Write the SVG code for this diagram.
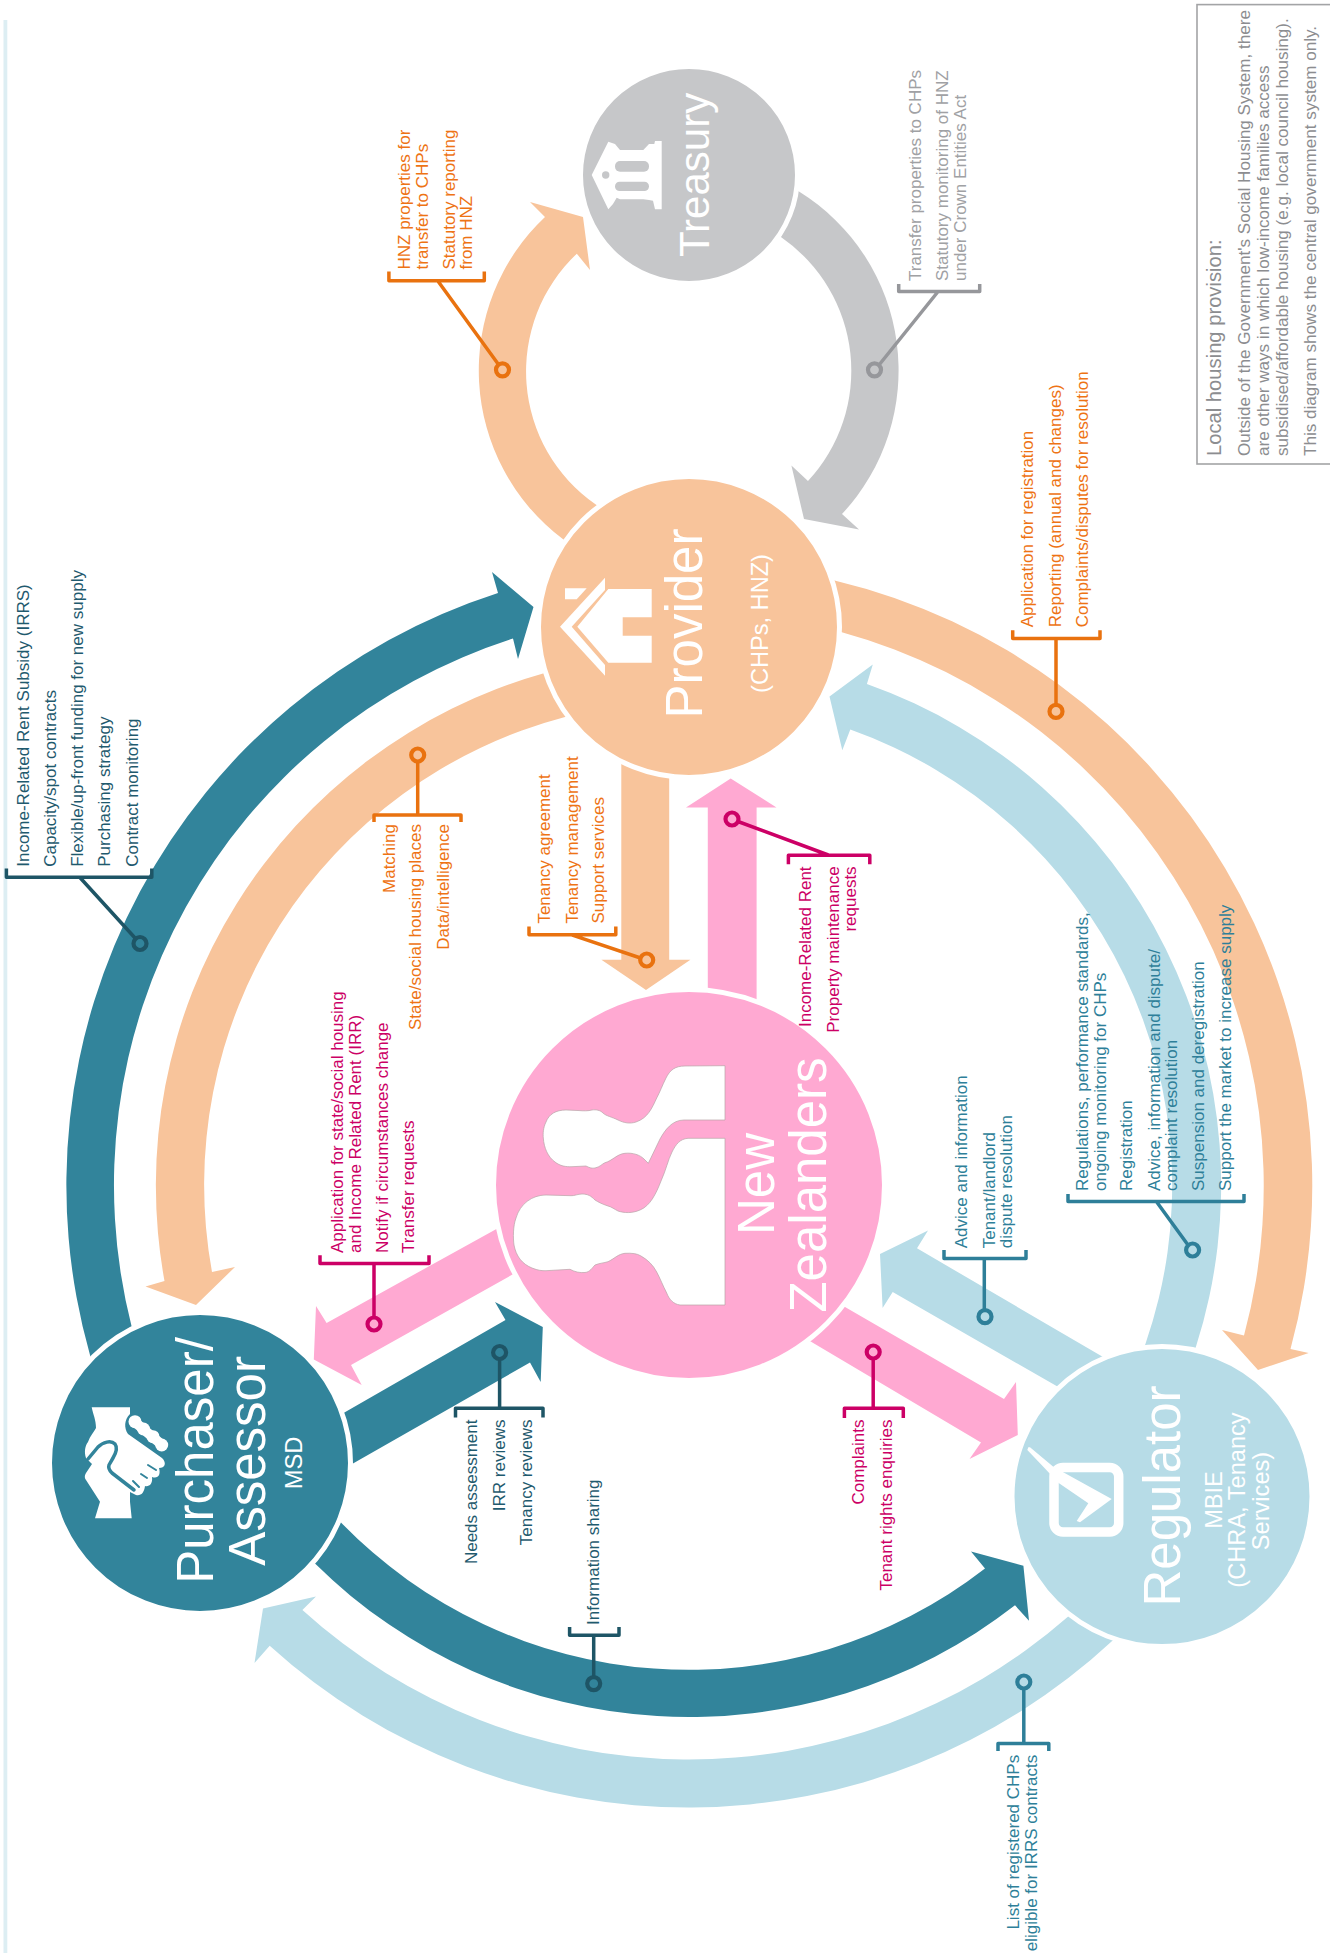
<svg xmlns="http://www.w3.org/2000/svg" width="1330" height="1953" viewBox="0 0 1330 1953">
<style>
text{font-family:"Liberation Sans",Arial,sans-serif;font-size:17px}
.teal{fill:#32849B}.peach{fill:#F8C49B}.blue{fill:#B7DCE7}.pink{fill:#FFA9D2}.grey{fill:#C6C7C9}
.halo{stroke:#fff;stroke-width:5}
.t-dark{fill:#1F5A6E}.t-mid{fill:#2E7F99}.t-or{fill:#EE7314}.t-mag{fill:#CC0066}.t-grey{fill:#A0A1A4}.t-box{fill:#8C8D90}
.end{text-anchor:end}.mid{text-anchor:middle}
.big{font-size:51px;fill:#fff;text-anchor:middle}.sub{font-size:23.6px;fill:#fff;text-anchor:middle}
.call{fill:none;stroke-width:3.5;stroke-linejoin:round}
circle.call{stroke-width:4.2}
.c-dark{stroke:#1E5566}.c-mid{stroke:#2E7F99}.c-or{stroke:#E9720F}.c-mag{stroke:#CC0066}.c-grey{stroke:#96979B}
.ic{fill:#fff}
</style>
<rect id="side-bar" x="3.5" y="20" width="3.8" height="1933" fill="#DDEEF3"/>
<g id="info-box">
<rect x="1197" y="4.6" width="140" height="459.4" fill="#fff" stroke="#A3A4A6" stroke-width="1.6"/>
<text class="t-box" style="font-size:20.2px" transform="translate(1220.5 456) rotate(-90)">Local housing provision:</text>
<text class="t-box" style="font-size:17.1px" transform="translate(1250 456) rotate(-90)">Outside of the Government's Social Housing System, there</text>
<text class="t-box" style="font-size:17.1px" transform="translate(1269.3 456) rotate(-90)">are other ways in which low-income families access</text>
<text class="t-box" style="font-size:17.1px" transform="translate(1288.4 456) rotate(-90)">subsidised/affordable housing (e.g. local council housing).</text>
<text class="t-box" style="font-size:17.1px" transform="translate(1316 456) rotate(-90)">This diagram shows the central government system only.</text>
</g>
<g id="connectors">
<path class="teal" d="M94,1369 L90,1355 A622 622 0 0 1 498,593 L492,572 L533.5,607 L518,659 L513,638.5 A574 574 0 0 0 131.5,1326 L136.4,1345 Z"/>
<path class="peach" d="M557.4,669.5 L543,673.6 A532 532 0 0 0 164.5,1281 L145.5,1286.4 L196,1305 L235,1267 L212,1272 A484 484 0 0 1 565,717 L579.5,713 Z"/>
<path class="peach" d="M574.8,548 L562.8,539 A211 211 0 0 1 545,217 L530,202 L583,217 L590,270 L576.8,253.7 A162 162 0 0 0 595.8,504.6 L608,513 Z"/>
<path class="grey" d="M786,183.6 L799,191.5 A210.5 210.5 0 0 1 842,514 L859,529.4 L804,519 L791.4,465.6 L808,481 A162 162 0 0 0 781.6,237.6 L769.4,229 Z"/>
<path class="peach" d="M820,577 L834.6,580.4 A622.5 622.5 0 0 1 1290.5,1349 L1308.7,1353 L1258,1370 L1222,1330 L1244,1335.4 A574.5 574.5 0 0 0 841,632 L826.5,628 Z"/>
<path class="blue" d="M1140.6,1358 L1145.5,1343.7 A483.5 483.5 0 0 0 850.3,729.6 L842.3,750.3 L829.5,696.4 L872.8,664.5 L866.9,684 A531.5 531.5 0 0 1 1196,1346.6 L1191.4,1361 Z"/>
<path class="teal" d="M330,1511 L340.5,1522 A484 484 0 0 0 985,1568.6 L971,1551.6 L1023.4,1565.7 L1029,1620.7 L1015,1605.3 A532 532 0 0 1 315,1563.6 L304.3,1553 Z"/>
<path class="blue" d="M1078.3,1607.5 L1067,1617.4 A574.5 574.5 0 0 1 302.4,1610 L316,1596.5 L263,1608.6 L254.5,1663 L269.7,1645.7 A622.5 622.5 0 0 0 1112.4,1640.7 L1123.4,1630.5 Z"/>
<polygon class="peach" points="621.3,740 669.2,740 669.2,959.7 690.4,959.7 646,990 601.4,959.7 621.3,959.7"/>
<polygon class="pink" points="707.8,1020 707.8,807.5 686,807.5 730.7,778.5 776.5,807.5 756.6,807.5 756.6,1020"/>
<polygon class="pink" points="517,1217.5 326.6,1323 316,1306 313.8,1359.6 361.7,1385 351,1365 533,1263"/>
<polygon class="teal" points="324.4,1424 505.5,1320 495,1302 542.8,1327 540.7,1382 530,1362.5 332.8,1475"/>
<polygon class="pink" points="826,1296 1004,1399 1016,1382 1017.8,1435 969.5,1459 981,1442.4 791.3,1330"/>
<polygon class="blue" points="1118.5,1366 917,1248.3 928,1230.4 880,1254 882.6,1308 892.7,1292 1074,1396"/>
</g>
<g id="node-treasury">
<circle class="grey halo" cx="689" cy="175" r="108.5"/>
<path class="ic" d="M591.7,175 L608.3,141.7 L615,144 L620,150 L643.3,150 L649,144 L654.3,144 L655,141 L661.7,141 L661.7,209.3 L655,209.3 L653,200.7 L649,200 L643.3,199.3 L620,199.3 L616.7,197.7 L613,204 L608.3,209.3 Z"/>
<rect class="grey" x="615" y="161" width="34" height="10.7" rx="5"/>
<rect class="grey" x="615" y="181.7" width="34" height="9.3" rx="4.6"/>
<circle class="grey" cx="605.7" cy="175" r="3.7"/>
<text class="big" style="font-size:42px;text-anchor:start" transform="translate(708.7 257) rotate(-90)">Treasury</text>
</g>
<g id="node-provider">
<circle class="peach halo" cx="689" cy="627" r="150.5"/>
<path class="ic" d="M560,626.7 L605,577.7 L605,590 L571.7,626.7 L605,665 L605,675.7 Z"/>
<path class="ic" d="M565,588.3 L586.7,588.3 L576.7,599.3 L565,599.3 Z"/>
<path class="ic" d="M577.3,626.7 L608.3,589 L651.7,589 L651.7,617.3 L622.7,617.3 L622.7,635.7 L651.7,635.7 L651.7,662.7 L608.3,662.7 Z"/>
<text class="big" transform="translate(702.3 623.5) rotate(-90)">Provider</text>
<text class="sub" transform="translate(768 623.5) rotate(-90)">(CHPs, HNZ)</text>
</g>
<g id="node-new-zealanders">
<circle class="pink halo" cx="689" cy="1185" r="195.5"/>
<path fill="#fff" stroke="#B8A5A8" stroke-width="0.7" d="M725,1065.7 L685,1066 C675,1066 670,1070 666,1078 C662,1086 660,1092 656.7,1098 C652,1108 648,1118 636,1122 C630,1124 624,1123 618,1120 C612,1117 606,1116 603,1113 C600,1110 596,1109.5 592,1110 C588,1111 584,1111 578,1110.5 L566,1110 C556,1110 549,1114 546,1122 C543,1128 543,1134 543.3,1138 C544,1148 548,1157 555,1162 C560,1166 566,1167 572,1166.7 L586,1166 C590,1168 592,1168.5 595,1168 C600,1167 602,1164 605,1162.7 C612,1161 617,1154 625,1153.3 C633,1152.5 640,1155 644,1159 L648.3,1163.3 L660,1139 C665,1130 672,1120 684,1120 L725,1120 Z"/>
<path fill="#fff" stroke="#B8A5A8" stroke-width="0.7" d="M725,1138.3 L688,1138.3 C680,1139 676,1144 672,1152 C668,1160 666,1170 661,1181 C656,1194 650,1206 640,1210 C632,1213.5 624,1213 618,1211 C614,1209 612,1207 608,1206 C602,1204 598,1202 595,1200 C591,1196 588,1194 582,1194 C578,1194 574,1196 571,1195.7 L546,1195 C532,1195 520,1204 516,1218 C513,1226 513,1238 514,1245 C516,1256 522,1264 532,1268 C538,1270.5 542,1270.8 546,1270.7 L570,1269.3 C575,1272 580,1273 585,1272.5 C590,1272 592,1268 595,1265 C600,1263 604,1263 608,1261.7 C614,1259 618,1254 625,1253.3 C632,1253 637,1253.5 641,1256 C648,1260 653,1265 656.7,1272 C660,1278 663,1286 666.7,1293 C669,1299 673,1304 680,1305 L725,1305 Z"/>
<text class="big" transform="translate(774.4 1184) rotate(-90)">New</text>
<text class="big" transform="translate(826 1185) rotate(-90)">Zealanders</text>
</g>
<g id="node-purchaser">
<circle class="teal halo" cx="200" cy="1463" r="150.5"/>
<path class="ic" d="M91.7,1407.3 L130,1407.3 L130,1414 C124,1420 124,1428 128,1434 L162,1458 C167,1463 165,1468 159,1468 C161,1475 158,1479 152,1477 C153,1484 149,1487 145,1486 C144,1493 141,1496 136,1495 L130,1492 L130,1501.7 L131.7,1518.3 L95,1518.3 L100,1501.7 L86,1480 C84,1477 85,1475 86,1473 L92,1464 L86,1458 C84,1452 85,1446 88,1442 C90,1436 94,1432 96,1428 C96,1420 93,1414 91.7,1407.3 Z"/>
<path fill="none" stroke="#32849B" stroke-width="3.5" stroke-linecap="round" stroke-linejoin="round" d="M88,1459 L98,1447 C103,1442 111,1440 115,1444 C118,1448 116,1453 113,1458 L109,1465 C108,1468 110,1471 112,1473 L134,1490"/>
<path fill="none" stroke="#32849B" stroke-width="2" stroke-linecap="round" d="M148,1465 L156,1470 M141,1474 L147,1478 M133,1481 L139,1487"/>
<path fill="none" stroke="#fff" stroke-width="10" stroke-linecap="round" d="M136,1423 L161,1444"/>
<circle class="ic" cx="135" cy="1421.7" r="6.5"/><circle class="ic" cx="143.5" cy="1429" r="6.5"/><circle class="ic" cx="153" cy="1436.7" r="6.5"/><circle class="ic" cx="161.7" cy="1445" r="6.5"/>
<text class="big" transform="translate(213.3 1460.5) rotate(-90)">Purchaser/</text>
<text class="big" transform="translate(265 1461) rotate(-90)">Assessor</text>
<text class="sub" transform="translate(302.4 1463) rotate(-90)">MSD</text>
</g>
<g id="node-regulator">
<circle class="blue halo" cx="1162" cy="1496.5" r="150"/>
<rect x="1054" y="1467.5" width="64.7" height="64.5" rx="9" fill="none" stroke="#fff" stroke-width="9.5"/>
<path class="ic" d="M1028.3,1447.3 L1030,1447.3 L1053.3,1466.7 L1111.7,1499 L1080,1522.3 L1076.7,1521 L1088.3,1503.3 L1058.3,1482.7 L1043.3,1466.7 L1027.3,1450 Z"/>
<text class="big" transform="translate(1180 1496) rotate(-90)">Regulator</text>
<text class="sub" transform="translate(1222 1500) rotate(-90)">MBIE</text>
<text class="sub" transform="translate(1245 1500) rotate(-90)">(CHRA, Tenancy</text>
<text class="sub" transform="translate(1269 1501) rotate(-90)">Services)</text>
</g>
<g id="callouts">
<path class="call c-dark" d="M6.4,868.5 V877.2 H151.8 V868.5 M79.7,877.2 L135.5,938.5"/><circle class="call c-dark" cx="140" cy="943.5" r="6.5"/>
<path class="call c-or" d="M388.9,271.6 V280.7 H484.3 V271.6 M437.7,280.7 L498.5,364.5"/><circle class="call c-or" cx="502.5" cy="369.8" r="6.5"/>
<path class="call c-grey" d="M898.7,284 V291.5 H979.7 V284 M937.7,292 L879,365"/><circle class="call c-grey" cx="874.5" cy="369.8" r="6.5"/>
<path class="call c-or" d="M1012.7,630.2 V638.5 H1100 V630.2 M1056,638.5 V705"/><circle class="call c-or" cx="1056" cy="711.4" r="6.5"/>
<path class="call c-or" d="M374,822 V815 H461 V822 M417.7,815 V761.5"/><circle class="call c-or" cx="417.7" cy="755" r="6.5"/>
<path class="call c-or" d="M529,926.5 V934.8 H615.8 V926.5 M571.7,934.8 L640.5,958"/><circle class="call c-or" cx="646.7" cy="960" r="6.5"/>
<path class="call c-mag" d="M788.4,864.3 V855.2 H869.8 V864.3 M828.3,855 L738,821.5"/><circle class="call c-mag" cx="732" cy="819" r="6.5"/>
<path class="call c-mag" d="M320,1255.3 V1263.6 H429 V1255.3 M374,1263.6 V1317.5"/><circle class="call c-mag" cx="374" cy="1324" r="6.5"/>
<path class="call c-dark" d="M455.5,1417.5 V1408.3 H543 V1417.5 M499.6,1408.3 V1359"/><circle class="call c-dark" cx="499.6" cy="1352.5" r="6.5"/>
<path class="call c-dark" d="M569.6,1627 V1635.3 H619 V1627 M593.7,1635.3 V1677"/><circle class="call c-dark" cx="593.7" cy="1683.6" r="6.5"/>
<path class="call c-mag" d="M844.4,1418 V1408.3 H903.3 V1418 M873.2,1408.3 V1358.5"/><circle class="call c-mag" cx="873.2" cy="1352" r="6.5"/>
<path class="call c-mid" d="M998,1751 V1743.6 H1048.8 V1751 M1023.8,1743.6 V1688.5"/><circle class="call c-mid" cx="1023.8" cy="1682" r="6.5"/>
<path class="call c-mid" d="M944,1250 V1258.6 H1026 V1250 M984.3,1258.6 V1310"/><circle class="call c-mid" cx="985" cy="1316.7" r="6.5"/>
<path class="call c-mid" d="M1068,1194 V1201.4 H1244 V1194 M1156,1201 L1188,1245"/><circle class="call c-mid" cx="1192.6" cy="1250" r="6.5"/>
</g>
<g id="labels-purchaser-provider" class="t-dark">
<text transform="translate(28.8 866.8) rotate(-90)">Income-Related Rent Subsidy (IRRS)</text>
<text transform="translate(55.6 866.8) rotate(-90)">Capacity/spot contracts</text>
<text transform="translate(82.7 866.8) rotate(-90)">Flexible/up-front funding for new supply</text>
<text transform="translate(110 866.8) rotate(-90)">Purchasing strategy</text>
<text transform="translate(138 866.8) rotate(-90)">Contract monitoring</text>
</g>
<g id="labels-provider-treasury" class="t-or">
<text transform="translate(410 269.5) rotate(-90)">HNZ properties for</text>
<text transform="translate(427.5 269.5) rotate(-90)">transfer to CHPs</text>
<text transform="translate(454.6 269.5) rotate(-90)">Statutory reporting</text>
<text transform="translate(471.6 269.5) rotate(-90)">from HNZ</text>
</g>
<g id="labels-treasury-provider" class="t-grey">
<text transform="translate(920.7 281) rotate(-90)">Transfer properties to CHPs</text>
<text transform="translate(948.3 281) rotate(-90)">Statutory monitoring of HNZ</text>
<text transform="translate(966 281) rotate(-90)">under Crown Entities Act</text>
</g>
<g id="labels-provider-regulator" class="t-or">
<text transform="translate(1033 627.3) rotate(-90)">Application for registration</text>
<text transform="translate(1060.7 627.3) rotate(-90)">Reporting (annual and changes)</text>
<text transform="translate(1088 627.3) rotate(-90)">Complaints/disputes for resolution</text>
</g>
<g id="labels-provider-purchaser" class="t-or">
<text class="end" transform="translate(395 824) rotate(-90)">Matching</text>
<text class="end" transform="translate(420.7 824) rotate(-90)">State/social housing places</text>
<text class="end" transform="translate(448.7 824) rotate(-90)">Data/intelligence</text>
</g>
<g id="labels-provider-nz" class="t-or">
<text transform="translate(549.6 923.6) rotate(-90)">Tenancy agreement</text>
<text transform="translate(577.6 923.6) rotate(-90)">Tenancy management</text>
<text transform="translate(604 923.6) rotate(-90)">Support services</text>
</g>
<g id="labels-nz-purchaser" class="t-mag">
<text transform="translate(342.7 1253) rotate(-90)">Application for state/social housing</text>
<text transform="translate(361 1253) rotate(-90)">and Income Related Rent (IRR)</text>
<text transform="translate(388 1253) rotate(-90)">Notify if circumstances change</text>
<text transform="translate(414.3 1253) rotate(-90)">Transfer requests</text>
</g>
<g id="labels-nz-provider" class="t-mag">
<text class="end" transform="translate(811.3 866.4) rotate(-90)">Income-Related Rent</text>
<text class="end" transform="translate(839 866.4) rotate(-90)">Property maintenance</text>
<text class="end" transform="translate(855.8 866.4) rotate(-90)">requests</text>
</g>
<g id="labels-regulator-nz" class="t-mid">
<text transform="translate(967.4 1248.3) rotate(-90)">Advice and information</text>
<text transform="translate(994.5 1248.3) rotate(-90)">Tenant/landlord</text>
<text transform="translate(1012 1248.3) rotate(-90)">dispute resolution</text>
</g>
<g id="labels-regulator-provider" class="t-mid">
<text transform="translate(1088 1191) rotate(-90)">Regulations, performance standards,</text>
<text transform="translate(1106 1191) rotate(-90)">ongoing monitoring for CHPs</text>
<text transform="translate(1132 1191) rotate(-90)">Registration</text>
<text transform="translate(1160 1191) rotate(-90)">Advice, information and dispute/</text>
<text transform="translate(1177 1191) rotate(-90)">complaint resolution</text>
<text transform="translate(1204 1191) rotate(-90)">Suspension and deregistration</text>
<text transform="translate(1231 1191) rotate(-90)">Support the market to increase supply</text>
</g>
<g id="labels-purchaser-nz" class="t-dark">
<text class="end" transform="translate(477 1419.5) rotate(-90)">Needs assessment</text>
<text class="end" transform="translate(504.7 1419.5) rotate(-90)">IRR reviews</text>
<text class="end" transform="translate(532 1419.5) rotate(-90)">Tenancy reviews</text>
</g>
<g id="labels-purchaser-regulator" class="t-dark">
<text transform="translate(598.8 1625) rotate(-90)">Information sharing</text>
</g>
<g id="labels-nz-regulator" class="t-mag">
<text class="end" transform="translate(864.3 1419.5) rotate(-90)">Complaints</text>
<text class="end" transform="translate(892 1419.5) rotate(-90)">Tenant rights enquiries</text>
</g>
<g id="labels-regulator-purchaser" class="t-mid">
<text class="end" transform="translate(1019 1754.8) rotate(-90)">List of registered CHPs</text>
<text class="end" transform="translate(1037.4 1754.8) rotate(-90)">eligible for IRRS contracts</text>
</g>
</svg>
